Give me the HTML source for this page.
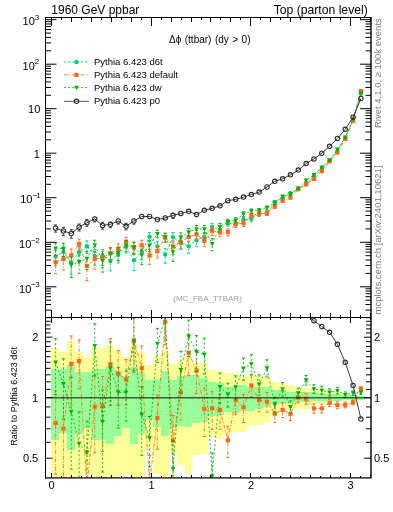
<!DOCTYPE html>
<html><head><meta charset="utf-8"><style>html,body{margin:0;padding:0;background:#fff;width:393px;height:512px;overflow:hidden}svg{display:block;will-change:transform}</style></head>
<body><svg width="393" height="512" viewBox="0 0 393 512">
<rect width="393" height="512" fill="#fff"/>
<defs><clipPath id="cm"><rect x="45.5" y="17.5" width="325.5" height="300.0"/></clipPath><clipPath id="cr"><rect x="45.5" y="317.5" width="325.5" height="160.0"/></clipPath></defs>
<g clip-path="url(#cr)" shape-rendering="crispEdges">
<rect x="51" y="347.9" width="8" height="130.1" fill="#ffff99"/>
<rect x="59" y="352.2" width="8" height="125.8" fill="#ffff99"/>
<rect x="67" y="341.2" width="8" height="136.8" fill="#ffff99"/>
<rect x="75" y="352.0" width="8" height="126.0" fill="#ffff99"/>
<rect x="83" y="356.7" width="8" height="117.3" fill="#ffff99"/>
<rect x="91" y="347.8" width="7" height="130.2" fill="#ffff99"/>
<rect x="98" y="347.8" width="8" height="130.2" fill="#ffff99"/>
<rect x="106" y="345.4" width="8" height="132.6" fill="#ffff99"/>
<rect x="114" y="350.2" width="8" height="127.8" fill="#ffff99"/>
<rect x="122" y="356.7" width="8" height="117.3" fill="#ffff99"/>
<rect x="130" y="344.6" width="8" height="133.4" fill="#ffff99"/>
<rect x="138" y="351.8" width="7" height="126.2" fill="#ffff99"/>
<rect x="145" y="364.8" width="8" height="85.3" fill="#ffff99"/>
<rect x="153" y="356.7" width="8" height="117.7" fill="#ffff99"/>
<rect x="161" y="350.2" width="8" height="127.8" fill="#ffff99"/>
<rect x="169" y="364.0" width="8" height="88.5" fill="#ffff99"/>
<rect x="177" y="360.0" width="8" height="104.7" fill="#ffff99"/>
<rect x="185" y="355.9" width="7" height="118.1" fill="#ffff99"/>
<rect x="192" y="363.2" width="8" height="91.8" fill="#ffff99"/>
<rect x="200" y="363.2" width="8" height="90.8" fill="#ffff99"/>
<rect x="208" y="369.7" width="8" height="67.4" fill="#ffff99"/>
<rect x="216" y="370.5" width="8" height="68.3" fill="#ffff99"/>
<rect x="224" y="373.2" width="8" height="60.7" fill="#ffff99"/>
<rect x="232" y="373.2" width="7" height="58.3" fill="#ffff99"/>
<rect x="239" y="375.7" width="8" height="55.8" fill="#ffff99"/>
<rect x="247" y="374.8" width="8" height="51.0" fill="#ffff99"/>
<rect x="255" y="376.0" width="8" height="48.7" fill="#ffff99"/>
<rect x="263" y="377.7" width="8" height="44.6" fill="#ffff99"/>
<rect x="271" y="381.7" width="8" height="33.3" fill="#ffff99"/>
<rect x="279" y="384.2" width="7" height="25.9" fill="#ffff99"/>
<rect x="286" y="385.0" width="8" height="24.5" fill="#ffff99"/>
<rect x="294" y="386.6" width="8" height="22.7" fill="#ffff99"/>
<rect x="302" y="387.5" width="8" height="21.0" fill="#ffff99"/>
<rect x="310" y="389.0" width="8" height="16.2" fill="#ffff99"/>
<rect x="318" y="389.8" width="7" height="13.8" fill="#ffff99"/>
<rect x="325" y="391.0" width="8" height="11.5" fill="#ffff99"/>
<rect x="333" y="392.3" width="8" height="8.9" fill="#ffff99"/>
<rect x="341" y="393.5" width="8" height="7.0" fill="#ffff99"/>
<rect x="349" y="394.7" width="8" height="4.9" fill="#ffff99"/>
<rect x="357" y="395.5" width="8" height="3.3" fill="#ffff99"/>
<rect x="51" y="369.3" width="8" height="70.3" fill="#99ff99"/>
<rect x="59" y="369.3" width="8" height="64.1" fill="#99ff99"/>
<rect x="67" y="364.7" width="8" height="85.0" fill="#99ff99"/>
<rect x="75" y="372.0" width="8" height="61.9" fill="#99ff99"/>
<rect x="83" y="372.1" width="8" height="55.7" fill="#99ff99"/>
<rect x="91" y="369.7" width="7" height="69.8" fill="#99ff99"/>
<rect x="98" y="368.9" width="8" height="70.7" fill="#99ff99"/>
<rect x="106" y="367.2" width="8" height="76.4" fill="#99ff99"/>
<rect x="114" y="371.3" width="8" height="64.2" fill="#99ff99"/>
<rect x="122" y="376.2" width="8" height="52.0" fill="#99ff99"/>
<rect x="130" y="367.2" width="8" height="76.4" fill="#99ff99"/>
<rect x="138" y="372.1" width="7" height="61.8" fill="#99ff99"/>
<rect x="145" y="380.2" width="8" height="39.9" fill="#99ff99"/>
<rect x="153" y="378.6" width="8" height="48.8" fill="#99ff99"/>
<rect x="161" y="370.5" width="8" height="65.0" fill="#99ff99"/>
<rect x="169" y="380.2" width="8" height="48.0" fill="#99ff99"/>
<rect x="177" y="376.2" width="8" height="49.6" fill="#99ff99"/>
<rect x="185" y="374.5" width="7" height="52.9" fill="#99ff99"/>
<rect x="192" y="375.3" width="8" height="47.3" fill="#99ff99"/>
<rect x="200" y="377.8" width="8" height="43.9" fill="#99ff99"/>
<rect x="208" y="381.8" width="8" height="34.3" fill="#99ff99"/>
<rect x="216" y="382.6" width="8" height="32.7" fill="#99ff99"/>
<rect x="224" y="387.0" width="8" height="25.0" fill="#99ff99"/>
<rect x="232" y="386.2" width="7" height="26.6" fill="#99ff99"/>
<rect x="239" y="385.4" width="8" height="25.8" fill="#99ff99"/>
<rect x="247" y="387.0" width="8" height="24.2" fill="#99ff99"/>
<rect x="255" y="386.6" width="8" height="21.9" fill="#99ff99"/>
<rect x="263" y="387.4" width="8" height="19.5" fill="#99ff99"/>
<rect x="271" y="389.8" width="8" height="14.6" fill="#99ff99"/>
<rect x="279" y="389.8" width="7" height="13.8" fill="#99ff99"/>
<rect x="286" y="391.5" width="8" height="11.5" fill="#99ff99"/>
<rect x="294" y="391.5" width="8" height="10.5" fill="#99ff99"/>
<rect x="302" y="391.5" width="8" height="10.5" fill="#99ff99"/>
<rect x="310" y="392.3" width="8" height="8.9" fill="#99ff99"/>
<rect x="318" y="393.0" width="7" height="8.0" fill="#99ff99"/>
<rect x="325" y="393.5" width="8" height="7.0" fill="#99ff99"/>
<rect x="333" y="394.0" width="8" height="6.5" fill="#99ff99"/>
<rect x="341" y="394.5" width="8" height="5.5" fill="#99ff99"/>
<rect x="349" y="395.0" width="8" height="4.5" fill="#99ff99"/>
<rect x="357" y="395.5" width="8" height="4.0" fill="#99ff99"/>
</g>
<g clip-path="url(#cm)">
<path d="M55.61 256.49 L63.44 251.89 L71.27 262.54 L79.10 252.31 L86.93 246.15 L94.75 255.94 L102.58 256.02 L110.41 260.60 L118.24 254.57 L126.07 246.38 L133.89 260.13 L141.72 251.66 L149.55 236.68 L157.38 246.33 L165.21 254.54 L173.03 237.09 L180.86 243.33 L188.69 246.36 L196.52 240.21 L204.35 237.02 L212.18 227.06 L220.00 229.64 L227.83 223.26 L235.66 224.09 L243.49 220.02 L251.32 218.87 L259.14 213.75 L266.97 213.25 L274.80 202.18 L282.63 198.17 L290.46 193.12 L298.28 189.18 L306.11 184.23 L313.94 176.67 L321.77 168.89 L329.60 160.73 L337.42 150.94 L345.25 137.63 L353.08 120.00 L360.91 93.61" fill="none" stroke="#00cc7a" stroke-width="0.85" stroke-dasharray="2.7 1.5"/>
<path d="M55.61 250.21V254.19M55.61 258.79V265.84M63.44 245.94V249.59M63.44 254.19V260.54M71.27 255.29V260.24M71.27 264.84V274.26M79.10 246.63V250.01M79.10 254.61V260.39M86.93 240.83V243.85M86.93 248.45V253.51M94.75 249.71V253.64M94.75 258.24V265.18M102.58 249.70V253.72M102.58 258.32V265.47M110.41 253.89V258.30M110.41 262.90V270.93M118.24 248.72V252.27M118.24 256.87V262.98M126.07 241.49V244.08M126.07 248.68V252.93M133.89 253.43V257.83M133.89 262.43V270.47M141.72 245.99V249.36M141.72 253.96V259.71M149.55 232.76V234.38M149.55 238.98V241.59M157.38 241.75V244.03M157.38 248.63V252.33M165.21 248.60V252.24M165.21 256.84V263.14M173.03 232.64V234.79M173.03 239.39V242.88M180.86 238.59V241.03M180.86 245.63V249.62M188.69 241.33V244.06M188.69 248.66V253.17M196.52 235.57V237.91M196.52 242.51V246.31M204.35 232.73V234.72M204.35 239.32V242.55M212.18 223.61V224.76M212.18 229.36V231.26M220.00 226.34V227.34M220.00 231.94V233.62M227.83 220.71V220.96M227.83 225.56V226.20M235.66 221.38V221.79M235.66 226.39V227.23M243.49 217.36V217.72M243.49 222.32V223.11M251.32 216.38V216.57M251.32 221.17V221.72M259.14 216.05V216.36M266.97 215.55V215.57" fill="none" stroke="#00cc7a" stroke-width="0.85" stroke-dasharray="2.7 1.5"/>
<path d="M54.11 250.21h3M54.11 265.84h3M61.94 245.94h3M61.94 260.54h3M69.77 255.29h3M69.77 274.26h3M77.60 246.63h3M77.60 260.39h3M85.43 240.83h3M85.43 253.51h3M93.25 249.71h3M93.25 265.18h3M101.08 249.70h3M101.08 265.47h3M108.91 253.89h3M108.91 270.93h3M116.74 248.72h3M116.74 262.98h3M124.57 241.49h3M124.57 252.93h3M132.39 253.43h3M132.39 270.47h3M140.22 245.99h3M140.22 259.71h3M148.05 232.76h3M148.05 241.59h3M155.88 241.75h3M155.88 252.33h3M163.71 248.60h3M163.71 263.14h3M171.53 232.64h3M171.53 242.88h3M179.36 238.59h3M179.36 249.62h3M187.19 241.33h3M187.19 253.17h3M195.02 235.57h3M195.02 246.31h3M202.85 232.73h3M202.85 242.55h3M210.68 223.61h3M210.68 231.26h3M218.50 226.34h3M218.50 233.62h3M226.33 220.71h3M226.33 226.20h3M234.16 221.38h3M234.16 227.23h3M241.99 217.36h3M241.99 223.11h3M249.82 216.38h3M249.82 221.72h3M257.64 211.45h3M257.64 216.36h3M265.47 211.18h3M265.47 215.57h3M273.30 200.61h3M273.30 203.89h3M281.13 196.68h3M281.13 199.79h3M288.96 191.87h3M288.96 194.44h3M296.78 188.04h3M296.78 190.40h3M304.61 183.09h3M304.61 185.45h3M312.44 175.69h3M312.44 177.69h3M320.27 168.02h3M320.27 169.81h3M328.10 159.97h3M328.10 161.53h3M335.92 150.23h3M335.92 151.68h3M343.75 137.03h3M343.75 138.26h3M351.58 119.50h3M351.58 120.51h3M359.41 93.17h3M359.41 94.06h3" fill="none" stroke="#00cc7a" stroke-width="1"/>
<circle cx="55.61" cy="256.49" r="2.2" fill="#00cc7a"/>
<circle cx="63.44" cy="251.89" r="2.2" fill="#00cc7a"/>
<circle cx="71.27" cy="262.54" r="2.2" fill="#00cc7a"/>
<circle cx="79.10" cy="252.31" r="2.2" fill="#00cc7a"/>
<circle cx="86.93" cy="246.15" r="2.2" fill="#00cc7a"/>
<circle cx="94.75" cy="255.94" r="2.2" fill="#00cc7a"/>
<circle cx="102.58" cy="256.02" r="2.2" fill="#00cc7a"/>
<circle cx="110.41" cy="260.60" r="2.2" fill="#00cc7a"/>
<circle cx="118.24" cy="254.57" r="2.2" fill="#00cc7a"/>
<circle cx="126.07" cy="246.38" r="2.2" fill="#00cc7a"/>
<circle cx="133.89" cy="260.13" r="2.2" fill="#00cc7a"/>
<circle cx="141.72" cy="251.66" r="2.2" fill="#00cc7a"/>
<circle cx="149.55" cy="236.68" r="2.2" fill="#00cc7a"/>
<circle cx="157.38" cy="246.33" r="2.2" fill="#00cc7a"/>
<circle cx="165.21" cy="254.54" r="2.2" fill="#00cc7a"/>
<circle cx="173.03" cy="237.09" r="2.2" fill="#00cc7a"/>
<circle cx="180.86" cy="243.33" r="2.2" fill="#00cc7a"/>
<circle cx="188.69" cy="246.36" r="2.2" fill="#00cc7a"/>
<circle cx="196.52" cy="240.21" r="2.2" fill="#00cc7a"/>
<circle cx="204.35" cy="237.02" r="2.2" fill="#00cc7a"/>
<circle cx="212.18" cy="227.06" r="2.2" fill="#00cc7a"/>
<circle cx="220.00" cy="229.64" r="2.2" fill="#00cc7a"/>
<circle cx="227.83" cy="223.26" r="2.2" fill="#00cc7a"/>
<circle cx="235.66" cy="224.09" r="2.2" fill="#00cc7a"/>
<circle cx="243.49" cy="220.02" r="2.2" fill="#00cc7a"/>
<circle cx="251.32" cy="218.87" r="2.2" fill="#00cc7a"/>
<circle cx="259.14" cy="213.75" r="2.2" fill="#00cc7a"/>
<circle cx="266.97" cy="213.25" r="2.2" fill="#00cc7a"/>
<circle cx="274.80" cy="202.18" r="2.2" fill="#00cc7a"/>
<circle cx="282.63" cy="198.17" r="2.2" fill="#00cc7a"/>
<circle cx="290.46" cy="193.12" r="2.2" fill="#00cc7a"/>
<circle cx="298.28" cy="189.18" r="2.2" fill="#00cc7a"/>
<circle cx="306.11" cy="184.23" r="2.2" fill="#00cc7a"/>
<circle cx="313.94" cy="176.67" r="2.2" fill="#00cc7a"/>
<circle cx="321.77" cy="168.89" r="2.2" fill="#00cc7a"/>
<circle cx="329.60" cy="160.73" r="2.2" fill="#00cc7a"/>
<circle cx="337.42" cy="150.94" r="2.2" fill="#00cc7a"/>
<circle cx="345.25" cy="137.63" r="2.2" fill="#00cc7a"/>
<circle cx="353.08" cy="120.00" r="2.2" fill="#00cc7a"/>
<circle cx="360.91" cy="93.61" r="2.2" fill="#00cc7a"/>
</g>
<g clip-path="url(#cm)">
<path d="M55.61 262.20 L63.44 258.90 L71.27 255.30 L79.10 243.80 L86.93 266.10 L94.75 259.00 L102.58 257.80 L110.41 253.20 L118.24 249.10 L126.07 241.70 L133.89 247.60 L141.72 245.20 L149.55 255.50 L157.38 251.10 L165.21 237.40 L173.03 246.60 L180.86 242.20 L188.69 236.80 L196.52 234.40 L204.35 240.50 L212.18 230.80 L220.00 232.40 L227.83 232.10 L235.66 224.10 L243.49 223.10 L251.32 215.40 L259.14 213.80 L266.97 213.00 L274.80 206.50 L282.63 200.60 L290.46 197.50 L298.28 189.10 L306.11 184.40 L313.94 178.90 L321.77 171.10 L329.60 161.30 L337.42 152.60 L345.25 138.90 L353.08 120.90 L360.91 91.00" fill="none" stroke="#ff6a14" stroke-width="0.85" stroke-dasharray="3.8 1.8 1.1 1.6"/>
<path d="M55.61 255.09V259.90M55.61 264.50V273.56M63.44 251.95V256.60M63.44 261.20V269.84M71.27 249.11V253.00M71.27 257.60V264.46M79.10 239.11V241.50M79.10 246.10V249.99M86.93 257.87V263.80M86.93 268.40V280.69M94.75 252.34V256.70M94.75 261.30V269.24M102.58 251.23V255.50M102.58 260.10V267.83M110.41 247.51V250.90M110.41 255.50V261.30M118.24 243.93V246.80M118.24 251.40V256.17M126.07 237.31V239.40M126.07 244.00V247.39M133.89 242.53V245.30M133.89 249.90V254.49M141.72 240.30V242.90M141.72 247.50V251.78M149.55 249.48V253.20M149.55 257.80V264.28M157.38 246.00V248.80M157.38 253.40V258.05M165.21 233.38V235.10M165.21 239.70V242.47M173.03 241.07V244.30M173.03 248.90V254.37M180.86 237.58V239.90M180.86 244.50V248.28M188.69 232.77V234.50M188.69 239.10V241.90M196.52 230.35V232.10M196.52 236.70V239.53M204.35 235.85V238.20M204.35 242.80V246.64M212.18 227.03V228.50M212.18 233.10V235.48M220.00 228.88V230.10M220.00 234.70V236.71M227.83 228.95V229.80M227.83 234.40V235.87M235.66 221.39V221.80M235.66 226.40V227.25M243.49 220.23V220.80M243.49 225.40V226.47M251.32 217.70V217.99M259.14 211.50V211.50M259.14 216.10V216.41" fill="none" stroke="#ff6a14" stroke-width="0.85" stroke-dasharray="3.8 1.8 1.1 1.6"/>
<path d="M54.11 255.09h3M54.11 273.56h3M61.94 251.95h3M61.94 269.84h3M69.77 249.11h3M69.77 264.46h3M77.60 239.11h3M77.60 249.99h3M85.43 257.87h3M85.43 280.69h3M93.25 252.34h3M93.25 269.24h3M101.08 251.23h3M101.08 267.83h3M108.91 247.51h3M108.91 261.30h3M116.74 243.93h3M116.74 256.17h3M124.57 237.31h3M124.57 247.39h3M132.39 242.53h3M132.39 254.49h3M140.22 240.30h3M140.22 251.78h3M148.05 249.48h3M148.05 264.28h3M155.88 246.00h3M155.88 258.05h3M163.71 233.38h3M163.71 242.47h3M171.53 241.07h3M171.53 254.37h3M179.36 237.58h3M179.36 248.28h3M187.19 232.77h3M187.19 241.90h3M195.02 230.35h3M195.02 239.53h3M202.85 235.85h3M202.85 246.64h3M210.68 227.03h3M210.68 235.48h3M218.50 228.88h3M218.50 236.71h3M226.33 228.95h3M226.33 235.87h3M234.16 221.39h3M234.16 227.25h3M241.99 220.23h3M241.99 226.47h3M249.82 213.12h3M249.82 217.99h3M257.64 211.50h3M257.64 216.41h3M265.47 210.95h3M265.47 215.30h3M273.30 204.76h3M273.30 208.42h3M281.13 199.02h3M281.13 202.33h3M288.96 196.11h3M288.96 198.99h3M296.78 187.96h3M296.78 190.31h3M304.61 183.25h3M304.61 185.62h3M312.44 177.87h3M312.44 179.99h3M320.27 170.17h3M320.27 172.07h3M328.10 160.52h3M328.10 162.11h3M335.92 151.86h3M335.92 153.37h3M343.75 138.28h3M343.75 139.54h3M351.58 120.39h3M351.58 121.42h3M359.41 90.59h3M359.41 91.42h3" fill="none" stroke="#ff6a14" stroke-width="1"/>
<rect x="53.51" y="260.10" width="4.2" height="4.2" fill="#ff6a14"/>
<rect x="61.34" y="256.80" width="4.2" height="4.2" fill="#ff6a14"/>
<rect x="69.17" y="253.20" width="4.2" height="4.2" fill="#ff6a14"/>
<rect x="77.00" y="241.70" width="4.2" height="4.2" fill="#ff6a14"/>
<rect x="84.83" y="264.00" width="4.2" height="4.2" fill="#ff6a14"/>
<rect x="92.65" y="256.90" width="4.2" height="4.2" fill="#ff6a14"/>
<rect x="100.48" y="255.70" width="4.2" height="4.2" fill="#ff6a14"/>
<rect x="108.31" y="251.10" width="4.2" height="4.2" fill="#ff6a14"/>
<rect x="116.14" y="247.00" width="4.2" height="4.2" fill="#ff6a14"/>
<rect x="123.97" y="239.60" width="4.2" height="4.2" fill="#ff6a14"/>
<rect x="131.79" y="245.50" width="4.2" height="4.2" fill="#ff6a14"/>
<rect x="139.62" y="243.10" width="4.2" height="4.2" fill="#ff6a14"/>
<rect x="147.45" y="253.40" width="4.2" height="4.2" fill="#ff6a14"/>
<rect x="155.28" y="249.00" width="4.2" height="4.2" fill="#ff6a14"/>
<rect x="163.11" y="235.30" width="4.2" height="4.2" fill="#ff6a14"/>
<rect x="170.93" y="244.50" width="4.2" height="4.2" fill="#ff6a14"/>
<rect x="178.76" y="240.10" width="4.2" height="4.2" fill="#ff6a14"/>
<rect x="186.59" y="234.70" width="4.2" height="4.2" fill="#ff6a14"/>
<rect x="194.42" y="232.30" width="4.2" height="4.2" fill="#ff6a14"/>
<rect x="202.25" y="238.40" width="4.2" height="4.2" fill="#ff6a14"/>
<rect x="210.08" y="228.70" width="4.2" height="4.2" fill="#ff6a14"/>
<rect x="217.90" y="230.30" width="4.2" height="4.2" fill="#ff6a14"/>
<rect x="225.73" y="230.00" width="4.2" height="4.2" fill="#ff6a14"/>
<rect x="233.56" y="222.00" width="4.2" height="4.2" fill="#ff6a14"/>
<rect x="241.39" y="221.00" width="4.2" height="4.2" fill="#ff6a14"/>
<rect x="249.22" y="213.30" width="4.2" height="4.2" fill="#ff6a14"/>
<rect x="257.04" y="211.70" width="4.2" height="4.2" fill="#ff6a14"/>
<rect x="264.87" y="210.90" width="4.2" height="4.2" fill="#ff6a14"/>
<rect x="272.70" y="204.40" width="4.2" height="4.2" fill="#ff6a14"/>
<rect x="280.53" y="198.50" width="4.2" height="4.2" fill="#ff6a14"/>
<rect x="288.36" y="195.40" width="4.2" height="4.2" fill="#ff6a14"/>
<rect x="296.18" y="187.00" width="4.2" height="4.2" fill="#ff6a14"/>
<rect x="304.01" y="182.30" width="4.2" height="4.2" fill="#ff6a14"/>
<rect x="311.84" y="176.80" width="4.2" height="4.2" fill="#ff6a14"/>
<rect x="319.67" y="169.00" width="4.2" height="4.2" fill="#ff6a14"/>
<rect x="327.50" y="159.20" width="4.2" height="4.2" fill="#ff6a14"/>
<rect x="335.32" y="150.50" width="4.2" height="4.2" fill="#ff6a14"/>
<rect x="343.15" y="136.80" width="4.2" height="4.2" fill="#ff6a14"/>
<rect x="350.98" y="118.80" width="4.2" height="4.2" fill="#ff6a14"/>
<rect x="358.81" y="88.90" width="4.2" height="4.2" fill="#ff6a14"/>
</g>
<g clip-path="url(#cm)">
<path d="M55.61 248.20 L63.44 248.70 L71.27 264.80 L79.10 262.10 L86.93 258.50 L94.75 245.10 L102.58 260.90 L110.41 253.90 L118.24 252.70 L126.07 245.30 L133.89 247.10 L141.72 255.30 L149.55 245.40 L157.38 233.70 L165.21 237.10 L173.03 252.10 L180.86 237.00 L188.69 232.10 L196.52 229.00 L204.35 229.00 L212.18 243.80 L220.00 226.50 L227.83 221.80 L235.66 220.20 L243.49 214.10 L251.32 211.00 L259.14 210.60 L266.97 207.80 L274.80 202.90 L282.63 196.50 L290.46 194.30 L298.28 188.20 L306.11 180.40 L313.94 174.90 L321.77 167.40 L329.60 160.10 L337.42 149.40 L345.25 137.30 L353.08 119.10 L360.91 93.10" fill="none" stroke="#00b000" stroke-width="0.85" stroke-dasharray="2 2.2"/>
<path d="M55.61 242.98V245.90M55.61 250.50V255.36M63.44 243.15V246.40M63.44 251.00V256.50M71.27 257.19V262.50M71.27 267.10V277.52M79.10 255.05V259.80M79.10 264.40V273.29M86.93 251.50V256.20M86.93 260.80V269.56M94.75 240.22V242.80M94.75 247.40V251.65M102.58 253.87V258.60M102.58 263.20V272.06M110.41 248.12V251.60M110.41 256.20V262.18M118.24 247.09V250.40M118.24 255.00V260.62M126.07 240.53V243.00M126.07 247.60V251.64M133.89 242.09V244.80M133.89 249.40V253.88M141.72 249.15V253.00M141.72 257.60V264.36M149.55 240.61V243.10M149.55 247.70V251.78M157.38 230.29V231.40M157.38 236.00V237.84M165.21 233.11V234.80M165.21 239.40V242.13M173.03 245.85V249.80M173.03 254.40V261.38M180.86 232.90V234.70M180.86 239.30V242.20M188.69 228.49V229.80M188.69 234.40V236.55M196.52 225.43V226.70M196.52 231.30V233.38M204.35 225.44V226.70M204.35 231.30V233.37M212.18 238.71V241.50M212.18 246.10V250.72M220.00 223.44V224.20M220.00 228.80V230.14M227.83 219.34V219.50M227.83 224.10V224.62M235.66 217.74V217.90M235.66 222.50V223.02M243.49 211.79V211.80M243.49 216.40V216.72M259.14 212.90V212.99" fill="none" stroke="#00b000" stroke-width="0.85" stroke-dasharray="2 2.2"/>
<path d="M54.11 242.98h3M54.11 255.36h3M61.94 243.15h3M61.94 256.50h3M69.77 257.19h3M69.77 277.52h3M77.60 255.05h3M77.60 273.29h3M85.43 251.50h3M85.43 269.56h3M93.25 240.22h3M93.25 251.65h3M101.08 253.87h3M101.08 272.06h3M108.91 248.12h3M108.91 262.18h3M116.74 247.09h3M116.74 260.62h3M124.57 240.53h3M124.57 251.64h3M132.39 242.09h3M132.39 253.88h3M140.22 249.15h3M140.22 264.36h3M148.05 240.61h3M148.05 251.78h3M155.88 230.29h3M155.88 237.84h3M163.71 233.11h3M163.71 242.13h3M171.53 245.85h3M171.53 261.38h3M179.36 232.90h3M179.36 242.20h3M187.19 228.49h3M187.19 236.55h3M195.02 225.43h3M195.02 233.38h3M202.85 225.44h3M202.85 233.37h3M210.68 238.71h3M210.68 250.72h3M218.50 223.44h3M218.50 230.14h3M226.33 219.34h3M226.33 224.62h3M234.16 217.74h3M234.16 223.02h3M241.99 211.79h3M241.99 216.72h3M249.82 208.95h3M249.82 213.29h3M257.64 208.47h3M257.64 212.99h3M265.47 205.99h3M265.47 209.79h3M273.30 201.30h3M273.30 204.64h3M281.13 195.07h3M281.13 198.04h3M288.96 193.02h3M288.96 195.67h3M296.78 187.08h3M296.78 189.38h3M304.61 179.36h3M304.61 181.50h3M312.44 173.97h3M312.44 175.88h3M320.27 166.56h3M320.27 168.28h3M328.10 159.34h3M328.10 160.89h3M335.92 148.72h3M335.92 150.11h3M343.75 136.70h3M343.75 137.92h3M351.58 118.62h3M351.58 119.60h3M359.41 92.67h3M359.41 93.54h3" fill="none" stroke="#00b000" stroke-width="1"/>
<path d="M53.26 246.40h4.7l-2.35 4.4z" fill="#00b000"/>
<path d="M61.09 246.90h4.7l-2.35 4.4z" fill="#00b000"/>
<path d="M68.92 263.00h4.7l-2.35 4.4z" fill="#00b000"/>
<path d="M76.75 260.30h4.7l-2.35 4.4z" fill="#00b000"/>
<path d="M84.58 256.70h4.7l-2.35 4.4z" fill="#00b000"/>
<path d="M92.40 243.30h4.7l-2.35 4.4z" fill="#00b000"/>
<path d="M100.23 259.10h4.7l-2.35 4.4z" fill="#00b000"/>
<path d="M108.06 252.10h4.7l-2.35 4.4z" fill="#00b000"/>
<path d="M115.89 250.90h4.7l-2.35 4.4z" fill="#00b000"/>
<path d="M123.72 243.50h4.7l-2.35 4.4z" fill="#00b000"/>
<path d="M131.54 245.30h4.7l-2.35 4.4z" fill="#00b000"/>
<path d="M139.37 253.50h4.7l-2.35 4.4z" fill="#00b000"/>
<path d="M147.20 243.60h4.7l-2.35 4.4z" fill="#00b000"/>
<path d="M155.03 231.90h4.7l-2.35 4.4z" fill="#00b000"/>
<path d="M162.86 235.30h4.7l-2.35 4.4z" fill="#00b000"/>
<path d="M170.68 250.30h4.7l-2.35 4.4z" fill="#00b000"/>
<path d="M178.51 235.20h4.7l-2.35 4.4z" fill="#00b000"/>
<path d="M186.34 230.30h4.7l-2.35 4.4z" fill="#00b000"/>
<path d="M194.17 227.20h4.7l-2.35 4.4z" fill="#00b000"/>
<path d="M202.00 227.20h4.7l-2.35 4.4z" fill="#00b000"/>
<path d="M209.83 242.00h4.7l-2.35 4.4z" fill="#00b000"/>
<path d="M217.65 224.70h4.7l-2.35 4.4z" fill="#00b000"/>
<path d="M225.48 220.00h4.7l-2.35 4.4z" fill="#00b000"/>
<path d="M233.31 218.40h4.7l-2.35 4.4z" fill="#00b000"/>
<path d="M241.14 212.30h4.7l-2.35 4.4z" fill="#00b000"/>
<path d="M248.97 209.20h4.7l-2.35 4.4z" fill="#00b000"/>
<path d="M256.79 208.80h4.7l-2.35 4.4z" fill="#00b000"/>
<path d="M264.62 206.00h4.7l-2.35 4.4z" fill="#00b000"/>
<path d="M272.45 201.10h4.7l-2.35 4.4z" fill="#00b000"/>
<path d="M280.28 194.70h4.7l-2.35 4.4z" fill="#00b000"/>
<path d="M288.11 192.50h4.7l-2.35 4.4z" fill="#00b000"/>
<path d="M295.93 186.40h4.7l-2.35 4.4z" fill="#00b000"/>
<path d="M303.76 178.60h4.7l-2.35 4.4z" fill="#00b000"/>
<path d="M311.59 173.10h4.7l-2.35 4.4z" fill="#00b000"/>
<path d="M319.42 165.60h4.7l-2.35 4.4z" fill="#00b000"/>
<path d="M327.25 158.30h4.7l-2.35 4.4z" fill="#00b000"/>
<path d="M335.07 147.60h4.7l-2.35 4.4z" fill="#00b000"/>
<path d="M342.90 135.50h4.7l-2.35 4.4z" fill="#00b000"/>
<path d="M350.73 117.30h4.7l-2.35 4.4z" fill="#00b000"/>
<path d="M358.56 91.30h4.7l-2.35 4.4z" fill="#00b000"/>
</g>
<g clip-path="url(#cm)">
<path d="M55.61 228.20 L63.44 231.00 L71.27 233.50 L79.10 227.20 L86.93 222.70 L94.75 218.90 L102.58 225.40 L110.41 224.30 L118.24 221.00 L126.07 226.30 L133.89 221.00 L141.72 216.50 L149.55 216.50 L157.38 219.50 L165.21 217.90 L173.03 215.30 L180.86 213.40 L188.69 211.30 L196.52 214.60 L204.35 210.30 L212.18 208.30 L220.00 205.80 L227.83 200.70 L235.66 199.30 L243.49 197.10 L251.32 194.60 L259.14 192.10 L266.97 187.00 L274.80 181.30 L282.63 178.80 L290.46 174.80 L298.28 170.10 L306.11 163.60 L313.94 158.90 L321.77 153.20 L329.60 146.30 L337.42 138.50 L345.25 129.30 L353.08 117.20 L360.91 98.50" fill="none" stroke="#3a3a3a" stroke-width="1.0"/>
<path d="M55.61 224.92V226.00M55.61 230.40V232.15M63.44 227.31V228.80M63.44 233.20V235.57M71.27 229.73V231.30M71.27 235.70V238.18M79.10 224.02V225.00M79.10 229.40V231.00M86.93 219.62V220.50M86.93 224.90V226.37M94.75 216.26V216.70M94.75 221.10V221.95M102.58 222.27V223.20M102.58 227.60V229.13M110.41 221.39V222.10M110.41 226.50V227.72M118.24 218.32V218.80M118.24 223.20V224.10M126.07 223.24V224.10M126.07 228.50V229.93M133.89 218.28V218.80M133.89 223.20V224.16M141.72 214.01V214.30M141.72 218.70V219.36M149.55 214.08V214.30M149.55 218.70V219.27M157.38 217.08V217.30M157.38 221.70V222.27M165.21 215.37V215.70M165.21 220.10V220.80M173.03 212.64V213.10M173.03 217.50V218.39M180.86 211.07V211.20M180.86 215.60V216.05M188.69 213.50V213.77M196.52 212.07V212.40M196.52 216.80V217.51M204.35 208.03V208.10M204.35 212.50V212.88M212.18 210.50V210.78" fill="none" stroke="#3a3a3a" stroke-width="0.85"/>
<path d="M54.11 224.92h3M54.11 232.15h3M61.94 227.31h3M61.94 235.57h3M69.77 229.73h3M69.77 238.18h3M77.60 224.02h3M77.60 231.00h3M85.43 219.62h3M85.43 226.37h3M93.25 221.95h3M101.08 222.27h3M101.08 229.13h3M108.91 227.72h3M116.74 224.10h3M124.57 223.24h3M124.57 229.93h3M132.39 224.16h3M171.53 218.39h3" fill="none" stroke="#3a3a3a" stroke-width="1"/>
<circle cx="55.61" cy="228.20" r="2.2" fill="none" stroke="#2a2a2a" stroke-width="1.1"/>
<circle cx="63.44" cy="231.00" r="2.2" fill="none" stroke="#2a2a2a" stroke-width="1.1"/>
<circle cx="71.27" cy="233.50" r="2.2" fill="none" stroke="#2a2a2a" stroke-width="1.1"/>
<circle cx="79.10" cy="227.20" r="2.2" fill="none" stroke="#2a2a2a" stroke-width="1.1"/>
<circle cx="86.93" cy="222.70" r="2.2" fill="none" stroke="#2a2a2a" stroke-width="1.1"/>
<circle cx="94.75" cy="218.90" r="2.2" fill="none" stroke="#2a2a2a" stroke-width="1.1"/>
<circle cx="102.58" cy="225.40" r="2.2" fill="none" stroke="#2a2a2a" stroke-width="1.1"/>
<circle cx="110.41" cy="224.30" r="2.2" fill="none" stroke="#2a2a2a" stroke-width="1.1"/>
<circle cx="118.24" cy="221.00" r="2.2" fill="none" stroke="#2a2a2a" stroke-width="1.1"/>
<circle cx="126.07" cy="226.30" r="2.2" fill="none" stroke="#2a2a2a" stroke-width="1.1"/>
<circle cx="133.89" cy="221.00" r="2.2" fill="none" stroke="#2a2a2a" stroke-width="1.1"/>
<circle cx="141.72" cy="216.50" r="2.2" fill="none" stroke="#2a2a2a" stroke-width="1.1"/>
<circle cx="149.55" cy="216.50" r="2.2" fill="none" stroke="#2a2a2a" stroke-width="1.1"/>
<circle cx="157.38" cy="219.50" r="2.2" fill="none" stroke="#2a2a2a" stroke-width="1.1"/>
<circle cx="165.21" cy="217.90" r="2.2" fill="none" stroke="#2a2a2a" stroke-width="1.1"/>
<circle cx="173.03" cy="215.30" r="2.2" fill="none" stroke="#2a2a2a" stroke-width="1.1"/>
<circle cx="180.86" cy="213.40" r="2.2" fill="none" stroke="#2a2a2a" stroke-width="1.1"/>
<circle cx="188.69" cy="211.30" r="2.2" fill="none" stroke="#2a2a2a" stroke-width="1.1"/>
<circle cx="196.52" cy="214.60" r="2.2" fill="none" stroke="#2a2a2a" stroke-width="1.1"/>
<circle cx="204.35" cy="210.30" r="2.2" fill="none" stroke="#2a2a2a" stroke-width="1.1"/>
<circle cx="212.18" cy="208.30" r="2.2" fill="none" stroke="#2a2a2a" stroke-width="1.1"/>
<circle cx="220.00" cy="205.80" r="2.2" fill="none" stroke="#2a2a2a" stroke-width="1.1"/>
<circle cx="227.83" cy="200.70" r="2.2" fill="none" stroke="#2a2a2a" stroke-width="1.1"/>
<circle cx="235.66" cy="199.30" r="2.2" fill="none" stroke="#2a2a2a" stroke-width="1.1"/>
<circle cx="243.49" cy="197.10" r="2.2" fill="none" stroke="#2a2a2a" stroke-width="1.1"/>
<circle cx="251.32" cy="194.60" r="2.2" fill="none" stroke="#2a2a2a" stroke-width="1.1"/>
<circle cx="259.14" cy="192.10" r="2.2" fill="none" stroke="#2a2a2a" stroke-width="1.1"/>
<circle cx="266.97" cy="187.00" r="2.2" fill="none" stroke="#2a2a2a" stroke-width="1.1"/>
<circle cx="274.80" cy="181.30" r="2.2" fill="none" stroke="#2a2a2a" stroke-width="1.1"/>
<circle cx="282.63" cy="178.80" r="2.2" fill="none" stroke="#2a2a2a" stroke-width="1.1"/>
<circle cx="290.46" cy="174.80" r="2.2" fill="none" stroke="#2a2a2a" stroke-width="1.1"/>
<circle cx="298.28" cy="170.10" r="2.2" fill="none" stroke="#2a2a2a" stroke-width="1.1"/>
<circle cx="306.11" cy="163.60" r="2.2" fill="none" stroke="#2a2a2a" stroke-width="1.1"/>
<circle cx="313.94" cy="158.90" r="2.2" fill="none" stroke="#2a2a2a" stroke-width="1.1"/>
<circle cx="321.77" cy="153.20" r="2.2" fill="none" stroke="#2a2a2a" stroke-width="1.1"/>
<circle cx="329.60" cy="146.30" r="2.2" fill="none" stroke="#2a2a2a" stroke-width="1.1"/>
<circle cx="337.42" cy="138.50" r="2.2" fill="none" stroke="#2a2a2a" stroke-width="1.1"/>
<circle cx="345.25" cy="129.30" r="2.2" fill="none" stroke="#2a2a2a" stroke-width="1.1"/>
<circle cx="353.08" cy="117.20" r="2.2" fill="none" stroke="#2a2a2a" stroke-width="1.1"/>
<circle cx="360.91" cy="98.50" r="2.2" fill="none" stroke="#2a2a2a" stroke-width="1.1"/>
</g>
<g clip-path="url(#cr)">
<path d="M55.61 422.90 L63.44 428.70 L71.27 363.90 L79.10 361.10 L86.93 487.62 L94.75 406.70 L102.58 406.30 L110.41 364.37 L118.24 373.70 L126.07 379.40 L133.89 341.23 L141.72 368.00 L149.55 482.52 L157.38 418.00 L165.21 321.90 L173.03 440.40 L180.86 392.40 L188.69 352.70 L196.52 370.50 L204.35 408.80 L212.18 408.30 L220.00 409.90 L227.83 440.40 L235.66 400.00 L243.49 407.30 L251.32 385.40 L259.14 400.00 L266.97 401.70 L274.80 413.70 L282.63 409.80 L290.46 413.80 L298.28 397.50 L306.11 398.80 L313.94 408.50 L321.77 408.40 L329.60 402.80 L337.42 405.20 L345.25 404.90 L353.08 402.30 L360.91 388.70" fill="none" stroke="#ff6a14" stroke-width="0.85" stroke-dasharray="3.8 1.8 1.1 1.6"/>
<path d="M55.61 390.85V420.60M55.61 425.20V474.09M63.44 397.39V426.40M63.44 431.00V477.99M71.27 335.99V361.60M71.27 366.20V405.17M79.10 339.98V358.80M79.10 363.40V389.01M86.93 450.53V485.32M86.93 489.92V553.39M94.75 376.67V404.40M94.75 409.00V452.84M102.58 376.67V404.00M102.58 408.60V451.50M110.41 338.71V362.07M110.41 366.67V400.87M118.24 350.40V371.40M118.24 376.00V405.58M126.07 359.61V377.10M126.07 381.70V405.03M133.89 318.38V338.93M133.89 343.53V372.28M141.72 345.92V365.70M141.72 370.30V397.64M149.55 455.40V480.22M149.55 484.82V522.08M157.38 395.00V415.70M157.38 420.30V449.32M165.21 303.80V319.60M165.21 324.20V344.75M173.03 415.48V438.10M173.03 442.70V475.40M180.86 371.58V390.10M180.86 394.70V419.79M188.69 334.52V350.40M188.69 355.00V375.69M196.52 352.24V368.20M196.52 372.80V393.62M204.35 387.83V406.50M204.35 411.10V436.45M212.18 391.32V406.00M212.18 410.60V429.40M220.00 394.02V407.60M220.00 412.20V429.32M227.83 426.19V438.10M227.83 442.70V457.39M235.66 387.81V397.70M235.66 402.30V414.17M243.49 394.38V405.00M243.49 409.60V422.47M251.32 375.11V383.10M251.32 387.70V397.07M259.14 389.63V397.70M259.14 402.30V411.77M266.97 392.44V399.40M266.97 404.00V412.06M274.80 405.84V411.40M274.80 416.00V422.34M282.63 402.66V407.50M282.63 412.10V417.57M290.46 407.55V411.50M290.46 416.10V420.53M298.28 392.36V395.20M298.28 399.80V402.97M306.11 393.62V396.50M306.11 401.10V404.30M313.94 403.86V406.20M313.94 410.80V413.40M321.77 404.23V406.10M321.77 410.70V412.78M329.60 399.29V400.50M329.60 405.10V406.46M337.42 401.85V402.90M337.42 407.50V408.68M345.25 402.09V402.60M345.25 407.20V407.80M353.08 404.60V404.65" fill="none" stroke="#ff6a14" stroke-width="0.85" stroke-dasharray="3.8 1.8 1.1 1.6"/>
<path d="M54.11 390.85h3M54.11 474.09h3M61.94 397.39h3M61.94 477.99h3M69.77 335.99h3M69.77 405.17h3M77.60 339.98h3M77.60 389.01h3M85.43 450.53h3M85.43 553.39h3M93.25 376.67h3M93.25 452.84h3M101.08 376.67h3M101.08 451.50h3M108.91 338.71h3M108.91 400.87h3M116.74 350.40h3M116.74 405.58h3M124.57 359.61h3M124.57 405.03h3M132.39 318.38h3M132.39 372.28h3M140.22 345.92h3M140.22 397.64h3M148.05 455.40h3M148.05 522.08h3M155.88 395.00h3M155.88 449.32h3M163.71 303.80h3M163.71 344.75h3M171.53 415.48h3M171.53 475.40h3M179.36 371.58h3M179.36 419.79h3M187.19 334.52h3M187.19 375.69h3M195.02 352.24h3M195.02 393.62h3M202.85 387.83h3M202.85 436.45h3M210.68 391.32h3M210.68 429.40h3M218.50 394.02h3M218.50 429.32h3M226.33 426.19h3M226.33 457.39h3M234.16 387.81h3M234.16 414.17h3M241.99 394.38h3M241.99 422.47h3M249.82 375.11h3M249.82 397.07h3M257.64 389.63h3M257.64 411.77h3M265.47 392.44h3M265.47 412.06h3M273.30 405.84h3M273.30 422.34h3M281.13 402.66h3M281.13 417.57h3M288.96 407.55h3M288.96 420.53h3M296.78 392.36h3M296.78 402.97h3M304.61 393.62h3M304.61 404.30h3M312.44 403.86h3M312.44 413.40h3M320.27 404.23h3M320.27 412.78h3M328.10 399.29h3M328.10 406.46h3M335.92 401.85h3M335.92 408.68h3M343.75 402.09h3M343.75 407.80h3M351.58 400.02h3M351.58 404.65h3M359.41 386.85h3M359.41 390.59h3" fill="none" stroke="#ff6a14" stroke-width="1"/>
<rect x="53.51" y="420.80" width="4.2" height="4.2" fill="#ff6a14"/>
<rect x="61.34" y="426.60" width="4.2" height="4.2" fill="#ff6a14"/>
<rect x="69.17" y="361.80" width="4.2" height="4.2" fill="#ff6a14"/>
<rect x="77.00" y="359.00" width="4.2" height="4.2" fill="#ff6a14"/>
<rect x="84.83" y="485.52" width="4.2" height="4.2" fill="#ff6a14"/>
<rect x="92.65" y="404.60" width="4.2" height="4.2" fill="#ff6a14"/>
<rect x="100.48" y="404.20" width="4.2" height="4.2" fill="#ff6a14"/>
<rect x="108.31" y="362.27" width="4.2" height="4.2" fill="#ff6a14"/>
<rect x="116.14" y="371.60" width="4.2" height="4.2" fill="#ff6a14"/>
<rect x="123.97" y="377.30" width="4.2" height="4.2" fill="#ff6a14"/>
<rect x="131.79" y="339.13" width="4.2" height="4.2" fill="#ff6a14"/>
<rect x="139.62" y="365.90" width="4.2" height="4.2" fill="#ff6a14"/>
<rect x="147.45" y="480.42" width="4.2" height="4.2" fill="#ff6a14"/>
<rect x="155.28" y="415.90" width="4.2" height="4.2" fill="#ff6a14"/>
<rect x="163.11" y="319.80" width="4.2" height="4.2" fill="#ff6a14"/>
<rect x="170.93" y="438.30" width="4.2" height="4.2" fill="#ff6a14"/>
<rect x="178.76" y="390.30" width="4.2" height="4.2" fill="#ff6a14"/>
<rect x="186.59" y="350.60" width="4.2" height="4.2" fill="#ff6a14"/>
<rect x="194.42" y="368.40" width="4.2" height="4.2" fill="#ff6a14"/>
<rect x="202.25" y="406.70" width="4.2" height="4.2" fill="#ff6a14"/>
<rect x="210.08" y="406.20" width="4.2" height="4.2" fill="#ff6a14"/>
<rect x="217.90" y="407.80" width="4.2" height="4.2" fill="#ff6a14"/>
<rect x="225.73" y="438.30" width="4.2" height="4.2" fill="#ff6a14"/>
<rect x="233.56" y="397.90" width="4.2" height="4.2" fill="#ff6a14"/>
<rect x="241.39" y="405.20" width="4.2" height="4.2" fill="#ff6a14"/>
<rect x="249.22" y="383.30" width="4.2" height="4.2" fill="#ff6a14"/>
<rect x="257.04" y="397.90" width="4.2" height="4.2" fill="#ff6a14"/>
<rect x="264.87" y="399.60" width="4.2" height="4.2" fill="#ff6a14"/>
<rect x="272.70" y="411.60" width="4.2" height="4.2" fill="#ff6a14"/>
<rect x="280.53" y="407.70" width="4.2" height="4.2" fill="#ff6a14"/>
<rect x="288.36" y="411.70" width="4.2" height="4.2" fill="#ff6a14"/>
<rect x="296.18" y="395.40" width="4.2" height="4.2" fill="#ff6a14"/>
<rect x="304.01" y="396.70" width="4.2" height="4.2" fill="#ff6a14"/>
<rect x="311.84" y="406.40" width="4.2" height="4.2" fill="#ff6a14"/>
<rect x="319.67" y="406.30" width="4.2" height="4.2" fill="#ff6a14"/>
<rect x="327.50" y="400.70" width="4.2" height="4.2" fill="#ff6a14"/>
<rect x="335.32" y="403.10" width="4.2" height="4.2" fill="#ff6a14"/>
<rect x="343.15" y="402.80" width="4.2" height="4.2" fill="#ff6a14"/>
<rect x="350.98" y="400.20" width="4.2" height="4.2" fill="#ff6a14"/>
<rect x="358.81" y="386.60" width="4.2" height="4.2" fill="#ff6a14"/>
</g>
<g clip-path="url(#cr)">
<path d="M55.61 362.30 L63.44 383.90 L71.27 411.60 L79.10 443.60 L86.93 452.70 L94.75 345.80 L102.58 421.70 L110.41 368.00 L118.24 392.40 L126.07 392.40 L133.89 340.20 L141.72 414.40 L149.55 438.00 L157.38 343.70 L165.21 317.50 L173.03 468.70 L180.86 369.70 L188.69 336.40 L196.52 351.80 L204.35 354.30 L212.18 476.00 L220.00 386.80 L227.83 394.30 L235.66 387.00 L243.49 368.40 L251.32 364.00 L259.14 384.40 L266.97 368.00 L274.80 404.40 L282.63 389.00 L290.46 406.70 L298.28 393.10 L306.11 380.10 L313.94 389.00 L321.77 390.20 L329.60 392.30 L337.42 390.70 L345.25 394.70 L353.08 393.10 L360.91 392.60" fill="none" stroke="#00b000" stroke-width="0.85" stroke-dasharray="2 2.2"/>
<path d="M55.61 338.79V360.00M55.61 364.60V394.58M63.44 358.90V381.60M63.44 386.20V419.07M71.27 377.29V409.30M71.27 413.90V468.92M79.10 411.84V441.30M79.10 445.90V494.04M86.93 421.17V450.40M86.93 455.00V502.54M94.75 323.79V343.50M94.75 348.10V375.30M102.58 390.00V419.40M102.58 424.00V471.98M110.41 341.94V365.70M110.41 370.30V405.33M118.24 367.13V390.10M118.24 394.70V428.11M126.07 370.91V390.10M126.07 394.70V420.98M133.89 317.60V337.90M133.89 342.50V370.77M141.72 386.69V412.10M141.72 416.70V455.24M149.55 416.40V435.70M149.55 440.30V466.77M157.38 328.34V341.40M157.38 346.00V362.35M165.21 299.53V315.20M165.21 319.80V340.15M173.03 440.54V466.40M173.03 471.00V510.53M180.86 351.24V367.40M180.86 372.00V393.14M188.69 320.11V334.10M188.69 338.70V356.44M196.52 335.71V349.50M196.52 354.10V371.55M204.35 338.25V352.00M204.35 356.60V373.97M212.18 453.08V473.70M212.18 478.30V507.17M220.00 373.00V384.50M220.00 389.10V403.20M227.83 383.20V392.00M227.83 396.60V407.02M235.66 375.91V384.70M235.66 389.30V399.71M243.49 358.01V366.10M243.49 370.70V380.20M251.32 354.76V361.70M251.32 366.30V374.34M259.14 374.81V382.10M259.14 386.70V395.18M266.97 359.85V365.70M266.97 370.30V376.99M274.80 397.21V402.10M274.80 406.70V412.24M282.63 382.55V386.70M282.63 391.30V395.96M290.46 400.93V404.40M290.46 409.00V412.88M298.28 388.07V390.80M298.28 395.40V398.44M306.11 375.42V377.80M306.11 382.40V385.05M313.94 384.80V386.70M313.94 391.30V393.41M321.77 386.40V387.90M321.77 392.50V394.17M329.60 388.90V390.00M329.60 394.60V395.84M337.42 387.62V388.40M337.42 393.00V393.90M345.25 392.00V392.40M345.25 397.00V397.48" fill="none" stroke="#00b000" stroke-width="0.85" stroke-dasharray="2 2.2"/>
<path d="M54.11 338.79h3M54.11 394.58h3M61.94 358.90h3M61.94 419.07h3M69.77 377.29h3M69.77 468.92h3M77.60 411.84h3M77.60 494.04h3M85.43 421.17h3M85.43 502.54h3M93.25 323.79h3M93.25 375.30h3M101.08 390.00h3M101.08 471.98h3M108.91 341.94h3M108.91 405.33h3M116.74 367.13h3M116.74 428.11h3M124.57 370.91h3M124.57 420.98h3M132.39 317.60h3M132.39 370.77h3M140.22 386.69h3M140.22 455.24h3M148.05 416.40h3M148.05 466.77h3M155.88 328.34h3M155.88 362.35h3M163.71 299.53h3M163.71 340.15h3M171.53 440.54h3M171.53 510.53h3M179.36 351.24h3M179.36 393.14h3M187.19 320.11h3M187.19 356.44h3M195.02 335.71h3M195.02 371.55h3M202.85 338.25h3M202.85 373.97h3M210.68 453.08h3M210.68 507.17h3M218.50 373.00h3M218.50 403.20h3M226.33 383.20h3M226.33 407.02h3M234.16 375.91h3M234.16 399.71h3M241.99 358.01h3M241.99 380.20h3M249.82 354.76h3M249.82 374.34h3M257.64 374.81h3M257.64 395.18h3M265.47 359.85h3M265.47 376.99h3M273.30 397.21h3M273.30 412.24h3M281.13 382.55h3M281.13 395.96h3M288.96 400.93h3M288.96 412.88h3M296.78 388.07h3M296.78 398.44h3M304.61 375.42h3M304.61 385.05h3M312.44 384.80h3M312.44 393.41h3M320.27 386.40h3M320.27 394.17h3M328.10 388.90h3M328.10 395.84h3M335.92 387.62h3M335.92 393.90h3M343.75 392.00h3M343.75 397.48h3M351.58 390.92h3M351.58 395.34h3M359.41 390.64h3M359.41 394.60h3" fill="none" stroke="#00b000" stroke-width="1"/>
<path d="M53.26 360.50h4.7l-2.35 4.4z" fill="#00b000"/>
<path d="M61.09 382.10h4.7l-2.35 4.4z" fill="#00b000"/>
<path d="M68.92 409.80h4.7l-2.35 4.4z" fill="#00b000"/>
<path d="M76.75 441.80h4.7l-2.35 4.4z" fill="#00b000"/>
<path d="M84.58 450.90h4.7l-2.35 4.4z" fill="#00b000"/>
<path d="M92.40 344.00h4.7l-2.35 4.4z" fill="#00b000"/>
<path d="M100.23 419.90h4.7l-2.35 4.4z" fill="#00b000"/>
<path d="M108.06 366.20h4.7l-2.35 4.4z" fill="#00b000"/>
<path d="M115.89 390.60h4.7l-2.35 4.4z" fill="#00b000"/>
<path d="M123.72 390.60h4.7l-2.35 4.4z" fill="#00b000"/>
<path d="M131.54 338.40h4.7l-2.35 4.4z" fill="#00b000"/>
<path d="M139.37 412.60h4.7l-2.35 4.4z" fill="#00b000"/>
<path d="M147.20 436.20h4.7l-2.35 4.4z" fill="#00b000"/>
<path d="M155.03 341.90h4.7l-2.35 4.4z" fill="#00b000"/>
<path d="M162.86 315.70h4.7l-2.35 4.4z" fill="#00b000"/>
<path d="M170.68 466.90h4.7l-2.35 4.4z" fill="#00b000"/>
<path d="M178.51 367.90h4.7l-2.35 4.4z" fill="#00b000"/>
<path d="M186.34 334.60h4.7l-2.35 4.4z" fill="#00b000"/>
<path d="M194.17 350.00h4.7l-2.35 4.4z" fill="#00b000"/>
<path d="M202.00 352.50h4.7l-2.35 4.4z" fill="#00b000"/>
<path d="M209.83 474.20h4.7l-2.35 4.4z" fill="#00b000"/>
<path d="M217.65 385.00h4.7l-2.35 4.4z" fill="#00b000"/>
<path d="M225.48 392.50h4.7l-2.35 4.4z" fill="#00b000"/>
<path d="M233.31 385.20h4.7l-2.35 4.4z" fill="#00b000"/>
<path d="M241.14 366.60h4.7l-2.35 4.4z" fill="#00b000"/>
<path d="M248.97 362.20h4.7l-2.35 4.4z" fill="#00b000"/>
<path d="M256.79 382.60h4.7l-2.35 4.4z" fill="#00b000"/>
<path d="M264.62 366.20h4.7l-2.35 4.4z" fill="#00b000"/>
<path d="M272.45 402.60h4.7l-2.35 4.4z" fill="#00b000"/>
<path d="M280.28 387.20h4.7l-2.35 4.4z" fill="#00b000"/>
<path d="M288.11 404.90h4.7l-2.35 4.4z" fill="#00b000"/>
<path d="M295.93 391.30h4.7l-2.35 4.4z" fill="#00b000"/>
<path d="M303.76 378.30h4.7l-2.35 4.4z" fill="#00b000"/>
<path d="M311.59 387.20h4.7l-2.35 4.4z" fill="#00b000"/>
<path d="M319.42 388.40h4.7l-2.35 4.4z" fill="#00b000"/>
<path d="M327.25 390.50h4.7l-2.35 4.4z" fill="#00b000"/>
<path d="M335.07 388.90h4.7l-2.35 4.4z" fill="#00b000"/>
<path d="M342.90 392.90h4.7l-2.35 4.4z" fill="#00b000"/>
<path d="M350.73 391.30h4.7l-2.35 4.4z" fill="#00b000"/>
<path d="M358.56 390.80h4.7l-2.35 4.4z" fill="#00b000"/>
</g>
<line x1="45.5" y1="397.8" x2="371.0" y2="397.8" stroke="#000" stroke-opacity="0.62" stroke-width="1.4"/>
<g clip-path="url(#cr)">
<path d="M290.46 290.00 L298.28 300.00 L306.11 313.40 L313.94 320.70 L321.77 326.50 L329.60 332.30 L337.42 344.30 L345.25 362.30 L353.08 385.50 L360.91 419.00" fill="none" stroke="#3a3a3a" stroke-width="1"/>
<circle cx="313.94" cy="320.70" r="2.2" fill="none" stroke="#2a2a2a" stroke-width="1.1"/>
<circle cx="321.77" cy="326.50" r="2.2" fill="none" stroke="#2a2a2a" stroke-width="1.1"/>
<circle cx="329.60" cy="332.30" r="2.2" fill="none" stroke="#2a2a2a" stroke-width="1.1"/>
<circle cx="337.42" cy="344.30" r="2.2" fill="none" stroke="#2a2a2a" stroke-width="1.1"/>
<circle cx="345.25" cy="362.30" r="2.2" fill="none" stroke="#2a2a2a" stroke-width="1.1"/>
<circle cx="353.08" cy="385.50" r="2.2" fill="none" stroke="#2a2a2a" stroke-width="1.1"/>
<circle cx="360.91" cy="419.00" r="2.2" fill="none" stroke="#2a2a2a" stroke-width="1.1"/>
</g>
<line x1="64" y1="62.0" x2="89" y2="62.0" stroke="#00cc7a" stroke-width="0.85" stroke-dasharray="2.7 1.5"/>
<circle cx="76.50" cy="62.00" r="2.2" fill="#00cc7a"/>
<text x="94" y="64.9" font-family="Liberation Sans, sans-serif" font-size="9.5" fill="#000">Pythia 6.423 d6t</text>
<line x1="64" y1="74.9" x2="89" y2="74.9" stroke="#ff6a14" stroke-width="0.85" stroke-dasharray="3.8 1.8 1.1 1.6"/>
<rect x="74.40" y="72.80" width="4.2" height="4.2" fill="#ff6a14"/>
<text x="94" y="77.8" font-family="Liberation Sans, sans-serif" font-size="9.5" fill="#000">Pythia 6.423 default</text>
<line x1="64" y1="87.6" x2="89" y2="87.6" stroke="#00b000" stroke-width="0.85" stroke-dasharray="2 2.2"/>
<path d="M74.15 85.80h4.7l-2.35 4.4z" fill="#00b000"/>
<text x="94" y="90.5" font-family="Liberation Sans, sans-serif" font-size="9.5" fill="#000">Pythia 6.423 dw</text>
<line x1="64" y1="101.3" x2="89" y2="101.3" stroke="#3a3a3a" stroke-width="0.85"/>
<circle cx="76.50" cy="101.30" r="2.2" fill="none" stroke="#2a2a2a" stroke-width="1.1"/>
<text x="94" y="104.2" font-family="Liberation Sans, sans-serif" font-size="9.5" fill="#000">Pythia 6.423 p0</text>
<path d="M51.5 17.5L51.5 25.5 M51.5 317.5L51.5 309.5 M51.5 317.5L51.5 322.5 M51.5 477.5L51.5 472.5 M61.5 17.5L61.5 20.0 M61.5 317.5L61.5 315.0 M61.5 317.5L61.5 319.3 M61.5 477.5L61.5 475.7 M71.5 17.5L71.5 22.0 M71.5 317.5L71.5 313.0 M71.5 317.5L71.5 320.3 M71.5 477.5L71.5 474.7 M81.5 17.5L81.5 20.0 M81.5 317.5L81.5 315.0 M81.5 317.5L81.5 319.3 M81.5 477.5L81.5 475.7 M91.5 17.5L91.5 22.0 M91.5 317.5L91.5 313.0 M91.5 317.5L91.5 320.3 M91.5 477.5L91.5 474.7 M101.5 17.5L101.5 20.0 M101.5 317.5L101.5 315.0 M101.5 317.5L101.5 319.3 M101.5 477.5L101.5 475.7 M111.5 17.5L111.5 22.0 M111.5 317.5L111.5 313.0 M111.5 317.5L111.5 320.3 M111.5 477.5L111.5 474.7 M121.5 17.5L121.5 20.0 M121.5 317.5L121.5 315.0 M121.5 317.5L121.5 319.3 M121.5 477.5L121.5 475.7 M131.5 17.5L131.5 22.0 M131.5 317.5L131.5 313.0 M131.5 317.5L131.5 320.3 M131.5 477.5L131.5 474.7 M141.5 17.5L141.5 20.0 M141.5 317.5L141.5 315.0 M141.5 317.5L141.5 319.3 M141.5 477.5L141.5 475.7 M151.5 17.5L151.5 25.5 M151.5 317.5L151.5 309.5 M151.5 317.5L151.5 322.5 M151.5 477.5L151.5 472.5 M161.5 17.5L161.5 20.0 M161.5 317.5L161.5 315.0 M161.5 317.5L161.5 319.3 M161.5 477.5L161.5 475.7 M171.5 17.5L171.5 22.0 M171.5 317.5L171.5 313.0 M171.5 317.5L171.5 320.3 M171.5 477.5L171.5 474.7 M181.5 17.5L181.5 20.0 M181.5 317.5L181.5 315.0 M181.5 317.5L181.5 319.3 M181.5 477.5L181.5 475.7 M191.5 17.5L191.5 22.0 M191.5 317.5L191.5 313.0 M191.5 317.5L191.5 320.3 M191.5 477.5L191.5 474.7 M201.5 17.5L201.5 20.0 M201.5 317.5L201.5 315.0 M201.5 317.5L201.5 319.3 M201.5 477.5L201.5 475.7 M210.5 17.5L210.5 22.0 M210.5 317.5L210.5 313.0 M210.5 317.5L210.5 320.3 M210.5 477.5L210.5 474.7 M220.5 17.5L220.5 20.0 M220.5 317.5L220.5 315.0 M220.5 317.5L220.5 319.3 M220.5 477.5L220.5 475.7 M230.5 17.5L230.5 22.0 M230.5 317.5L230.5 313.0 M230.5 317.5L230.5 320.3 M230.5 477.5L230.5 474.7 M240.5 17.5L240.5 20.0 M240.5 317.5L240.5 315.0 M240.5 317.5L240.5 319.3 M240.5 477.5L240.5 475.7 M250.5 17.5L250.5 25.5 M250.5 317.5L250.5 309.5 M250.5 317.5L250.5 322.5 M250.5 477.5L250.5 472.5 M260.5 17.5L260.5 20.0 M260.5 317.5L260.5 315.0 M260.5 317.5L260.5 319.3 M260.5 477.5L260.5 475.7 M270.5 17.5L270.5 22.0 M270.5 317.5L270.5 313.0 M270.5 317.5L270.5 320.3 M270.5 477.5L270.5 474.7 M280.5 17.5L280.5 20.0 M280.5 317.5L280.5 315.0 M280.5 317.5L280.5 319.3 M280.5 477.5L280.5 475.7 M290.5 17.5L290.5 22.0 M290.5 317.5L290.5 313.0 M290.5 317.5L290.5 320.3 M290.5 477.5L290.5 474.7 M300.5 17.5L300.5 20.0 M300.5 317.5L300.5 315.0 M300.5 317.5L300.5 319.3 M300.5 477.5L300.5 475.7 M310.5 17.5L310.5 22.0 M310.5 317.5L310.5 313.0 M310.5 317.5L310.5 320.3 M310.5 477.5L310.5 474.7 M320.5 17.5L320.5 20.0 M320.5 317.5L320.5 315.0 M320.5 317.5L320.5 319.3 M320.5 477.5L320.5 475.7 M330.5 17.5L330.5 22.0 M330.5 317.5L330.5 313.0 M330.5 317.5L330.5 320.3 M330.5 477.5L330.5 474.7 M340.5 17.5L340.5 20.0 M340.5 317.5L340.5 315.0 M340.5 317.5L340.5 319.3 M340.5 477.5L340.5 475.7 M350.5 17.5L350.5 25.5 M350.5 317.5L350.5 309.5 M350.5 317.5L350.5 322.5 M350.5 477.5L350.5 472.5 M360.5 17.5L360.5 20.0 M360.5 317.5L360.5 315.0 M360.5 317.5L360.5 319.3 M360.5 477.5L360.5 475.7 M370.5 17.5L370.5 22.0 M370.5 317.5L370.5 313.0 M370.5 317.5L370.5 320.3 M370.5 477.5L370.5 474.7" stroke="#000" stroke-width="1" fill="none" shape-rendering="crispEdges"/>
<path d="M45.5 310.1L51.0 310.1 M371.0 310.1L365.5 310.1 M45.5 304.5L51.0 304.5 M371.0 304.5L365.5 304.5 M45.5 300.2L51.0 300.2 M371.0 300.2L365.5 300.2 M45.5 296.7L51.0 296.7 M371.0 296.7L365.5 296.7 M45.5 293.7L51.0 293.7 M371.0 293.7L365.5 293.7 M45.5 291.1L51.0 291.1 M371.0 291.1L365.5 291.1 M45.5 288.8L51.0 288.8 M371.0 288.8L365.5 288.8 M45.5 286.8L56.5 286.8 M371.0 286.8L360.0 286.8 M45.5 273.4L51.0 273.4 M371.0 273.4L365.5 273.4 M45.5 265.5L51.0 265.5 M371.0 265.5L365.5 265.5 M45.5 260.0L51.0 260.0 M371.0 260.0L365.5 260.0 M45.5 255.7L51.0 255.7 M371.0 255.7L365.5 255.7 M45.5 252.1L51.0 252.1 M371.0 252.1L365.5 252.1 M45.5 249.2L51.0 249.2 M371.0 249.2L365.5 249.2 M45.5 246.6L51.0 246.6 M371.0 246.6L365.5 246.6 M45.5 244.3L51.0 244.3 M371.0 244.3L365.5 244.3 M45.5 242.3L56.5 242.3 M371.0 242.3L360.0 242.3 M45.5 228.9L51.0 228.9 M371.0 228.9L365.5 228.9 M45.5 221.0L51.0 221.0 M371.0 221.0L365.5 221.0 M45.5 215.5L51.0 215.5 M371.0 215.5L365.5 215.5 M45.5 211.1L51.0 211.1 M371.0 211.1L365.5 211.1 M45.5 207.6L51.0 207.6 M371.0 207.6L365.5 207.6 M45.5 204.6L51.0 204.6 M371.0 204.6L365.5 204.6 M45.5 202.1L51.0 202.1 M371.0 202.1L365.5 202.1 M45.5 199.8L51.0 199.8 M371.0 199.8L365.5 199.8 M45.5 197.7L56.5 197.7 M371.0 197.7L360.0 197.7 M45.5 184.3L51.0 184.3 M371.0 184.3L365.5 184.3 M45.5 176.5L51.0 176.5 M371.0 176.5L365.5 176.5 M45.5 170.9L51.0 170.9 M371.0 170.9L365.5 170.9 M45.5 166.6L51.0 166.6 M371.0 166.6L365.5 166.6 M45.5 163.1L51.0 163.1 M371.0 163.1L365.5 163.1 M45.5 160.1L51.0 160.1 M371.0 160.1L365.5 160.1 M45.5 157.5L51.0 157.5 M371.0 157.5L365.5 157.5 M45.5 155.3L51.0 155.3 M371.0 155.3L365.5 155.3 M45.5 153.2L56.5 153.2 M371.0 153.2L360.0 153.2 M45.5 139.8L51.0 139.8 M371.0 139.8L365.5 139.8 M45.5 132.0L51.0 132.0 M371.0 132.0L365.5 132.0 M45.5 126.4L51.0 126.4 M371.0 126.4L365.5 126.4 M45.5 122.1L51.0 122.1 M371.0 122.1L365.5 122.1 M45.5 118.6L51.0 118.6 M371.0 118.6L365.5 118.6 M45.5 115.6L51.0 115.6 M371.0 115.6L365.5 115.6 M45.5 113.0L51.0 113.0 M371.0 113.0L365.5 113.0 M45.5 110.7L51.0 110.7 M371.0 110.7L365.5 110.7 M45.5 108.7L56.5 108.7 M371.0 108.7L360.0 108.7 M45.5 95.3L51.0 95.3 M371.0 95.3L365.5 95.3 M45.5 87.5L51.0 87.5 M371.0 87.5L365.5 87.5 M45.5 81.9L51.0 81.9 M371.0 81.9L365.5 81.9 M45.5 77.6L51.0 77.6 M371.0 77.6L365.5 77.6 M45.5 74.1L51.0 74.1 M371.0 74.1L365.5 74.1 M45.5 71.1L51.0 71.1 M371.0 71.1L365.5 71.1 M45.5 68.5L51.0 68.5 M371.0 68.5L365.5 68.5 M45.5 66.2L51.0 66.2 M371.0 66.2L365.5 66.2 M45.5 64.2L56.5 64.2 M371.0 64.2L360.0 64.2 M45.5 50.8L51.0 50.8 M371.0 50.8L365.5 50.8 M45.5 42.9L51.0 42.9 M371.0 42.9L365.5 42.9 M45.5 37.4L51.0 37.4 M371.0 37.4L365.5 37.4 M45.5 33.1L51.0 33.1 M371.0 33.1L365.5 33.1 M45.5 29.5L51.0 29.5 M371.0 29.5L365.5 29.5 M45.5 26.6L51.0 26.6 M371.0 26.6L365.5 26.6 M45.5 24.0L51.0 24.0 M371.0 24.0L365.5 24.0 M45.5 21.7L51.0 21.7 M371.0 21.7L365.5 21.7 M45.5 19.7L56.5 19.7 M371.0 19.7L360.0 19.7 M45.5 458.2L52.5 458.2 M371.0 458.2L364.0 458.2 M45.5 442.3L50.5 442.3 M371.0 442.3L366.0 442.3 M45.5 428.8L50.5 428.8 M371.0 428.8L366.0 428.8 M45.5 417.2L50.5 417.2 M371.0 417.2L366.0 417.2 M45.5 406.9L50.5 406.9 M371.0 406.9L366.0 406.9 M45.5 397.7L52.5 397.7 M371.0 397.7L364.0 397.7 M45.5 389.4L50.5 389.4 M371.0 389.4L366.0 389.4 M45.5 381.8L50.5 381.8 M371.0 381.8L366.0 381.8 M45.5 374.8L50.5 374.8 M371.0 374.8L366.0 374.8 M45.5 368.3L50.5 368.3 M371.0 368.3L366.0 368.3 M45.5 362.3L50.5 362.3 M371.0 362.3L366.0 362.3 M45.5 356.7L50.5 356.7 M371.0 356.7L366.0 356.7 M45.5 351.4L50.5 351.4 M371.0 351.4L366.0 351.4 M45.5 346.4L50.5 346.4 M371.0 346.4L366.0 346.4 M45.5 341.7L50.5 341.7 M371.0 341.7L366.0 341.7 M45.5 337.2L52.5 337.2 M371.0 337.2L364.0 337.2 M45.5 332.9L50.5 332.9 M371.0 332.9L366.0 332.9 M45.5 328.9L50.5 328.9 M371.0 328.9L366.0 328.9 M45.5 325.0L50.5 325.0 M371.0 325.0L366.0 325.0 M45.5 321.3L50.5 321.3 M371.0 321.3L366.0 321.3 M45.5 317.7L50.5 317.7 M371.0 317.7L366.0 317.7" stroke="#000" stroke-width="1" fill="none"/>
<path d="M45.5 17.5H371.0M45.5 317.5H371.0" stroke="#000" stroke-width="1" shape-rendering="crispEdges"/>
<path d="M45.5 17V478.5" stroke="#000" stroke-width="1" shape-rendering="crispEdges"/>
<path d="M371.0 17V478.6M45 477.9H371.6" stroke="#000" stroke-width="1.4"/>
<g font-family="Liberation Sans, sans-serif" fill="#000">
<text x="51.3" y="13.6" font-size="12">1960 GeV ppbar</text>
<text x="367.8" y="13.6" font-size="12.2" text-anchor="end">Top (parton level)</text>
<text x="169" y="43.1" font-size="10" word-spacing="0.7">Δϕ (ttbar) (dy &gt; 0)</text>
<g font-size="11" text-anchor="end">
<text x="39.3" y="24.8">10<tspan font-size="8" dy="-5.2">3</tspan></text>
<text x="39.3" y="69.6">10<tspan font-size="8" dy="-5.2">2</tspan></text>
<text x="40.3" y="113.2">10</text>
<text x="39.9" y="157.9">1</text>
<text x="40.6" y="203.3">10<tspan font-size="8" dy="-5.2" dx="0.6">−</tspan><tspan font-size="8" dx="-1.6">1</tspan></text>
<text x="39.6" y="247.9">10<tspan font-size="8" dy="-5.2">−</tspan><tspan font-size="8" dx="-0.8">2</tspan></text>
<text x="39.6" y="292.5">10<tspan font-size="8" dy="-5.2">−</tspan><tspan font-size="8" dx="-0.8">3</tspan></text>
<text x="38.3" y="341">2</text>
<text x="38" y="402">1</text>
<text x="38.2" y="462">0.5</text>
</g>
<g font-size="11">
<text x="374" y="341">2</text>
<text x="374" y="402">1</text>
<text x="374" y="462">0.5</text>
</g>
<g font-size="11" text-anchor="middle">
<text x="51.5" y="489">0</text>
<text x="151.5" y="489">1</text>
<text x="251" y="489">2</text>
<text x="350.5" y="489">3</text>
</g>
<text transform="translate(17.2,396.4) rotate(-90)" font-size="9" text-anchor="middle">Ratio to Pythia 6.423 d6t</text>
<g fill="#7a7a7a" font-size="9.5">
<text transform="translate(381,128) rotate(-90)">Rivet 4.1.0, ≥ 100k events</text>
<text transform="translate(381,314.5) rotate(-90)">mcplots.cern.ch [arXiv:2401.10621]</text>
</g>
<text x="207.6" y="300.5" font-size="8" fill="#a0a0a0" text-anchor="middle">(MC_FBA_TTBAR)</text>
</g>
</svg></body></html>
